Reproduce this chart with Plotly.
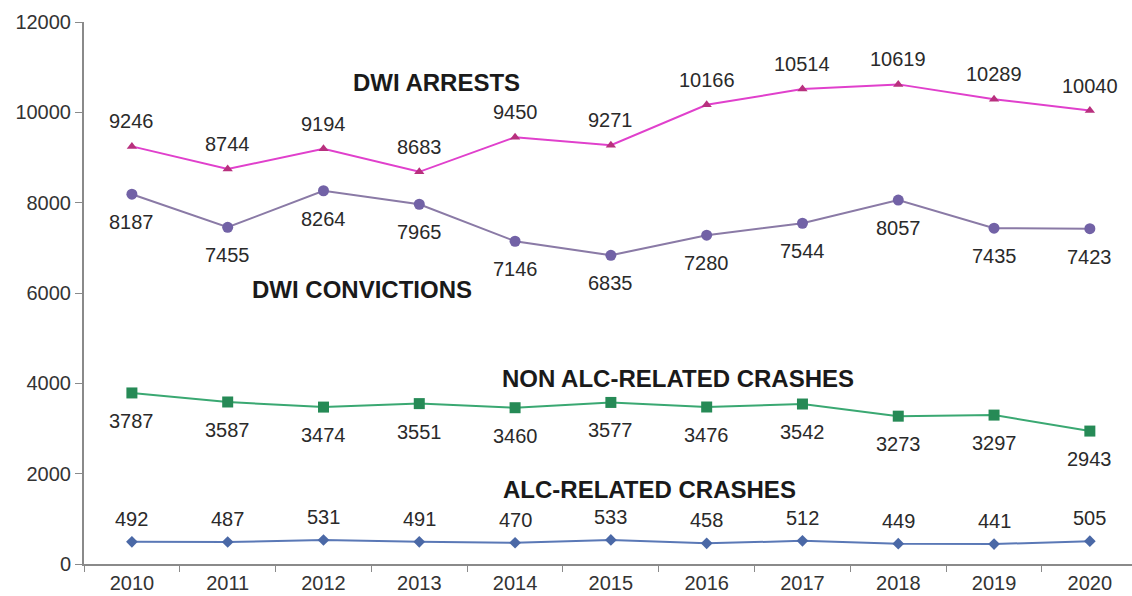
import plotly.graph_objects as go

years = ["2010", "2011", "2012", "2013", "2014", "2015", "2016", "2017", "2018", "2019", "2020"]
dwi_arrests = [9246, 8744, 9194, 8683, 9450, 9271, 10166, 10514, 10619, 10289, 10040]
dwi_convictions = [8187, 7455, 8264, 7965, 7146, 6835, 7280, 7544, 8057, 7435, 7423]
non_alc_crashes = [3787, 3587, 3474, 3551, 3460, 3577, 3476, 3542, 3273, 3297, 2943]
alc_crashes = [492, 487, 531, 491, 470, 533, 458, 512, 449, 441, 505]
y_ticks = [0, 2000, 4000, 6000, 8000, 10000, 12000]

FONT = "Liberation Sans, Arial, sans-serif"

series = [
    # values, line colour, marker colour, symbol, marker size, label shift
    (dwi_arrests, "#e040cc", "#b8307e", "triangle-up", 9, 25),
    (dwi_convictions, "#8a7aa6", "#7262a6", "circle", 11, -28),
    (non_alc_crashes, "#3aa872", "#268a56", "square", 11, -28),
    (alc_crashes, "#5a78b6", "#4a68a6", "diamond", 9, 23),
]

fig = go.Figure()
annotations = []
for vals, lc, mc, sym, ms, shift in series:
    fig.add_trace(go.Scatter(
        x=years, y=vals, mode="lines+markers",
        line=dict(color=lc, width=2),
        marker=dict(symbol=sym, size=ms, color=mc),
        showlegend=False,
    ))
    for i, yv in enumerate(vals):
        annotations.append(dict(
            x=i, y=yv, xref="x", yref="y", text=str(yv), showarrow=False,
            xanchor="center", yanchor="middle",
            yshift=shift, font=dict(family=FONT, size=20, color="#2a2a2a"),
        ))

titles = [
    ("DWI ARRESTS", 0.336, 0.889),
    ("DWI CONVICTIONS", 0.265, 0.506),
    ("NON ALC-RELATED CRASHES", 0.567, 0.343),
    ("ALC-RELATED CRASHES", 0.540, 0.137),
]
for t, px, py in titles:
    annotations.append(dict(
        x=px, y=py, xref="paper", yref="paper", text=f"<b>{t}</b>", showarrow=False,
        xanchor="center", yanchor="middle",
        font=dict(family=FONT, size=24, color="#1a1a1a"),
    ))

fig.update_layout(
    width=1132, height=596,
    margin=dict(l=84, r=0, t=22, b=32),
    paper_bgcolor="white", plot_bgcolor="white",
    annotations=annotations,
    font=dict(family=FONT, size=20, color="#333333"),
)
fig.update_xaxes(
    type="category", range=[-0.5, 10.44],
    showline=True, linecolor="#8a8a8a", linewidth=2,
    ticks="outside", tickson="boundaries", ticklen=6, tickcolor="#8a8a8a",
    showgrid=False, zeroline=False,
    tickfont=dict(family=FONT, size=20, color="#333333"),
)
fig.update_yaxes(
    range=[0, 12000], tickvals=y_ticks, tickformat="d",
    showline=True, linecolor="#8a8a8a", linewidth=2,
    ticks="outside", ticklen=7, tickcolor="#8a8a8a",
    showgrid=False, zeroline=False,
    tickfont=dict(family=FONT, size=20, color="#333333"),
)

fig.write_html(
    "out.html",
    config={"displayModeBar": False},
    post_script="document.body.style.margin='0px';document.body.style.overflow='hidden';",
)
